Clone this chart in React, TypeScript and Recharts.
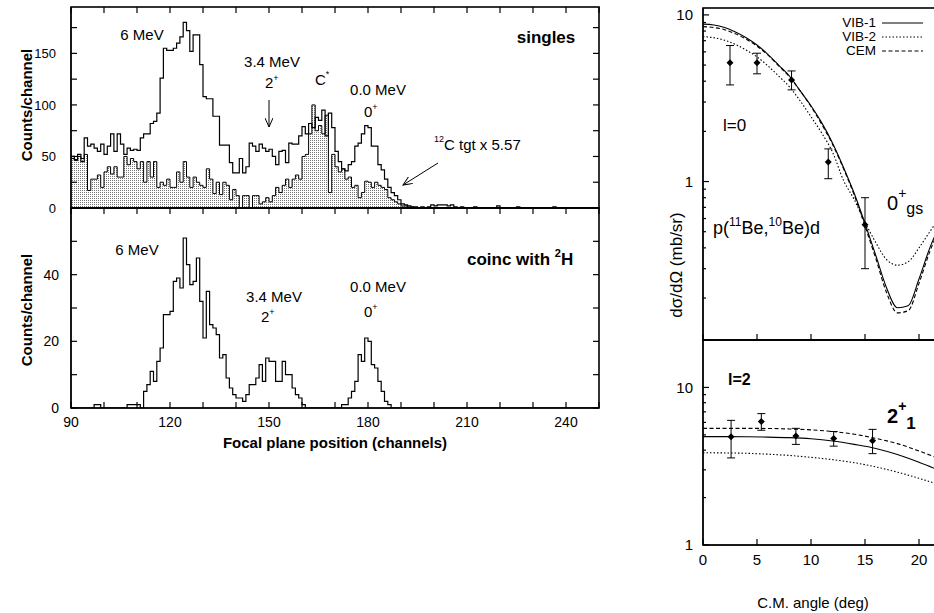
import React from 'react'
import { ComposedChart, Line, Area, XAxis, YAxis, Scatter, ErrorBar } from 'recharts'

const FONT = '"Liberation Sans", Arial, Helvetica, sans-serif'

// ---- focal plane spectra, one value per channel, first channel = 90 ----
const CH_START = 90
const singles = [
  50, 47, 52, 45, 68, 60, 62, 58, 55, 62, // 90
  52, 60, 72, 55, 72, 62, 52, 58, 56, 57, // 100
  56, 68, 72, 72, 82, 84, 92, 126, 155, 153, // 110
  153, 155, 160, 166, 180, 172, 152, 168, 168, 139, // 120
  108, 106, 106, 89, 89, 61, 61, 61, 44, 34, // 130
  34, 48, 34, 40, 63, 60, 55, 62, 58, 55, // 140
  57, 50, 42, 55, 56, 44, 63, 62, 62, 70, // 150
  79, 72, 82, 78, 88, 85, 95, 70, 92, 78, // 160
  55, 45, 38, 36, 42, 45, 60, 63, 72, 80, // 170
  78, 60, 60, 42, 37, 28, 20, 15, 12, 8, // 180
  4, 3, 2, 1, 1, 0, 1, 0, 1, 3, // 190
  2, 3, 3, 3, 2, 3, 1, 0, 1, 0, // 200
  0, 0, 1, 0, 0, 0, 0, 0, 0, 2, // 210
  0, 0, 0, 0, 0, 1, 0, 0, 0, 0, // 220
  0, 0, 0, 0, 0, 0, 1, 0, 0, 0, // 230
  0, 0, 0, 0, 0, 0, 0, 0, 0, 0, // 240
  0,
]
// 12C target run, scaled x 5.57
const carbonScaled = [
  48, 46, 50, 48, 52, 17, 28, 28, 32, 20,
  35, 40, 33, 40, 30, 30, 50, 42, 48, 45,
  38, 45, 25, 45, 30, 45, 20, 25, 22, 28,
  20, 20, 35, 25, 45, 30, 20, 30, 25, 22,
  20, 38, 28, 14, 25, 13, 25, 22, 8, 18,
  12, 0, 12, 12, 0, 12, 12, 4, 6, 10,
  6, 12, 20, 15, 22, 28, 20, 28, 32, 28,
  50, 52, 72, 100, 75, 80, 72, 90, 15, 52,
  40, 35, 38, 28, 30, 20, 22, 10, 15, 26,
  25, 20, 25, 22, 20, 18, 10, 8, 6, 4,
  2, 2, 1, 1, 0, 0, 0, 0, 0, 0,
  0, 0, 0, 0, 0, 0, 0, 0, 0, 0,
  0, 0, 0, 0, 0, 0, 0, 0, 0, 0,
  0, 0, 0, 0, 0, 0, 0, 0, 0, 0,
  0, 0, 0, 0, 0, 0, 0, 0, 0, 0,
  0, 0, 0, 0, 0, 0, 0, 0, 0, 0,
  0,
]
// coincidence with 2H
const coinc = [
  0, 0, 0, 0, 0, 0, 0, 1, 1, 0,
  0, 0, 0, 0, 0, 0, 0, 1, 1, 1,
  1, 0, 5, 7, 11, 8, 14, 18, 28, 28,
  29, 38, 39, 36, 51, 43, 37, 38, 45, 32,
  21, 35, 25, 24, 22, 15, 16, 9, 6, 4,
  3, 3, 2, 4, 7, 7, 9, 13, 8, 15,
  14, 14, 8, 8, 14, 10, 10, 6, 4, 3,
  1, 0, 0, 0, 0, 0, 0, 0, 0, 0,
  0, 0, 1, 1, 3, 5, 8, 16, 14, 21,
  20, 13, 12, 8, 5, 2, 1, 0, 0, 0,
  0, 0, 0, 0, 0, 0, 0, 0, 0, 0,
  0, 0, 0, 0, 0, 0, 0, 0, 0, 0,
  0, 0, 0, 0, 0, 0, 0, 0, 0, 0,
  0, 0, 0, 0, 0, 0, 0, 0, 0, 0,
  0, 0, 0, 0, 0, 0, 0, 0, 0, 0,
  0, 0, 0, 0, 0, 0, 0, 0, 0, 0,
  0,
]

const chTicks = [90, 100, 110, 120, 130, 140, 150, 160, 170, 180, 190, 200, 210, 220, 230, 240, 250]
const chLabels = [90, 120, 150, 180, 210, 240]
const singlesTicks = [0, 25, 50, 75, 100, 125, 150, 175]
const singlesLabels = [0, 50, 100, 150]
const coincTicks = [0, 10, 20, 30, 40, 50, 60]
const coincLabels = [0, 20, 40]

// ---- angular distributions ----
const angleTicks = [0, 5, 10, 15, 20, 25]
const angleLabels = [0, 5, 10, 15, 20]
const gsTicks = [0.2, 0.3, 0.4, 0.5, 0.6, 0.7, 0.8, 0.9, 1, 2, 3, 4, 5, 6, 7, 8, 9, 10]
const exTicks = [1, 2, 3, 4, 5, 6, 7, 8, 9, 10, 20]
const decades = [1, 10]

const gsAngles = [0, 1, 2, 3, 4, 5, 6, 7, 8, 9, 10, 11, 12, 13, 14, 15, 16, 17, 18, 19, 20, 21, 22]
const gsVib1 = [8.8, 8.7, 8.4, 7.9, 7.3, 6.6, 5.8, 5.0, 4.3, 3.5, 2.85, 2.25, 1.7, 1.22, 0.85, 0.56, 0.36, 0.23, 0.175, 0.18, 0.26, 0.4, 0.56]
const gsVib2 = [7.4, 7.3, 7.05, 6.65, 6.15, 5.6, 4.95, 4.3, 3.7, 3.05, 2.45, 1.95, 1.5, 1.02, 0.78, 0.57, 0.43, 0.34, 0.315, 0.33, 0.4, 0.5, 0.62]
const gsCem = [8.5, 8.4, 8.15, 7.7, 7.15, 6.5, 5.75, 4.95, 4.25, 3.5, 2.82, 2.2, 1.67, 1.2, 0.83, 0.54, 0.345, 0.215, 0.163, 0.168, 0.245, 0.38, 0.54]

const gsDataAngles = [2.5, 5.0, 8.2, 11.6, 15.0]
const gsDataValues = [5.17, 5.17, 4.07, 1.31, 0.55]
const gsDataLow = [3.8, 4.43, 3.55, 1.04, 0.3]
const gsDataHigh = [6.55, 5.89, 4.61, 1.57, 0.8]

const exAngles = [0, 2, 4, 6, 8, 10, 12, 14, 16, 18, 20, 22]
const exVib1 = [4.87, 4.87, 4.86, 4.84, 4.8, 4.72, 4.57, 4.35, 4.1, 3.75, 3.35, 2.95]
const exVib2 = [3.85, 3.84, 3.82, 3.77, 3.7, 3.6, 3.48, 3.33, 3.13, 2.9, 2.65, 2.4]
const exCem = [5.5, 5.5, 5.5, 5.49, 5.45, 5.38, 5.25, 5.05, 4.75, 4.4, 3.95, 3.5]

const exDataAngles = [2.6, 5.4, 8.6, 12.1, 15.7]
const exDataValues = [4.87, 6.07, 4.91, 4.75, 4.59]
const exDataLow = [3.57, 5.35, 4.35, 4.24, 3.8]
const exDataHigh = [6.18, 6.82, 5.5, 5.25, 5.42]

const histData = singles.map((v, i) => ({
  ch: CH_START + i,
  singles: v,
  carbon: carbonScaled[i],
  coinc: coinc[i],
}))

const gsCurves = gsAngles.map((a, i) => ({ angle: a, vib1: gsVib1[i], vib2: gsVib2[i], cem: gsCem[i] }))
const exCurves = exAngles.map((a, i) => ({ angle: a, vib1: exVib1[i], vib2: exVib2[i], cem: exCem[i] }))
const gsPoints = gsDataAngles.map((a, i) => ({
  angle: a,
  y: gsDataValues[i],
  err: [gsDataValues[i] - gsDataLow[i], gsDataHigh[i] - gsDataValues[i]],
}))
const exPoints = exDataAngles.map((a, i) => ({
  angle: a,
  y: exDataValues[i],
  err: [exDataValues[i] - exDataLow[i], exDataHigh[i] - exDataValues[i]],
}))

const curveStyles = [
  { key: 'vib1', name: 'VIB-1', dash: undefined as string | undefined },
  { key: 'vib2', name: 'VIB-2', dash: '1.5 2' },
  { key: 'cem', name: 'CEM', dash: '4 2.5' },
]

// ---- plot boxes (page pixels); the charts below are sized to put their plot areas here ----
type Box = {
  x0: number; x1: number; y0: number; y1: number
  xDomain: [number, number]; yDomain: [number, number]; yLog?: boolean
  xTicks: number[]; yTicks: number[]; yMajors?: number[]
  topTicks: boolean; bottomTicks: boolean; rightTicks: boolean
}
const boxes: Box[] = [
  { x0: 71, x1: 599, y0: 7, y1: 208, xDomain: [90, 250], yDomain: [0, 195], xTicks: chTicks, yTicks: singlesTicks, topTicks: true, bottomTicks: false, rightTicks: true },
  { x0: 71, x1: 599, y0: 208, y1: 408, xDomain: [90, 250], yDomain: [0, 60], xTicks: chTicks, yTicks: coincTicks, topTicks: true, bottomTicks: true, rightTicks: true },
  { x0: 703, x1: 973, y0: 8, y1: 340, xDomain: [0, 25], yDomain: [0.112, 11], yLog: true, xTicks: angleTicks, yTicks: gsTicks, yMajors: decades, topTicks: false, bottomTicks: true, rightTicks: false },
  { x0: 703, x1: 973, y0: 340, y1: 545, xDomain: [0, 25], yDomain: [1, 20], yLog: true, xTicks: angleTicks, yTicks: exTicks, yMajors: decades, topTicks: false, bottomTicks: true, rightTicks: false },
]

// labels only; the tick marks themselves are drawn inward by <Frames />
const makeLabel =
  (side: 'bottom' | 'left', labels: number[], fontSize: number, gap: number) =>
  (props: any) => {
    const { x, y, payload } = props
    const v = payload.value
    if (!labels.includes(v)) return <g />
    if (side === 'bottom')
      return (
        <text x={x} y={y + gap} textAnchor="middle" fontSize={fontSize} fill="#000">
          {v}
        </text>
      )
    return (
      <text x={x - gap} y={y + fontSize * 0.36} textAnchor="end" fontSize={fontSize} fill="#000">
        {v}
      </text>
    )
  }

const axisLine = { stroke: '#000', strokeWidth: 1 }

const Diamond = (p: any) => {
  const { cx, cy } = p
  const r = 3.5
  return <path d={`M${cx},${cy - r}L${cx + r},${cy}L${cx},${cy + r}L${cx - r},${cy}Z`} fill="#000" />
}

function FocalPlaneTop() {
  return (
    <ComposedChart width={610} height={215} data={histData} margin={{ top: 7, right: 11, bottom: 6, left: 0 }}>
      <defs>
        <pattern id="stipple" width={2} height={2} patternUnits="userSpaceOnUse">
          <rect width={2} height={2} fill="#fff" />
          <rect width={1} height={1} fill="#777" />
        </pattern>
      </defs>
      <XAxis dataKey="ch" type="number" domain={[90, 250]} ticks={chTicks} height={1} tick={false} tickLine={false} axisLine={axisLine} allowDataOverflow />
      <YAxis type="number" domain={[0, 195]} ticks={singlesTicks} width={71} tickSize={0} tickMargin={0} interval={0} tick={makeLabel('left', singlesLabels, 13, 15)} tickLine={false} axisLine={axisLine} allowDataOverflow />
      <Area type="stepAfter" dataKey="carbon" stroke="#000" strokeWidth={1} fill="url(#stipple)" fillOpacity={1} dot={false} activeDot={false} isAnimationActive={false} />
      <Line type="stepAfter" dataKey="singles" stroke="#000" strokeWidth={1.2} dot={false} activeDot={false} isAnimationActive={false} />
    </ComposedChart>
  )
}

function FocalPlaneBottom() {
  return (
    <ComposedChart width={610} height={240} data={histData} margin={{ top: 8, right: 11, bottom: 0, left: 0 }}>
      <XAxis dataKey="ch" type="number" domain={[90, 250]} ticks={chTicks} height={32} tickSize={0} tickMargin={0} interval={0} tick={makeLabel('bottom', chLabels, 14, 19)} tickLine={false} axisLine={axisLine} allowDataOverflow />
      <YAxis type="number" domain={[0, 60]} ticks={coincTicks} width={71} tickSize={0} tickMargin={0} interval={0} tick={makeLabel('left', coincLabels, 14, 12)} tickLine={false} axisLine={axisLine} allowDataOverflow />
      <Line type="stepAfter" dataKey="coinc" stroke="#000" strokeWidth={1.2} dot={false} activeDot={false} isAnimationActive={false} />
    </ComposedChart>
  )
}

function AngularGs() {
  return (
    <ComposedChart width={343} height={345} data={gsCurves} margin={{ top: 8, right: 10, bottom: 4, left: 0 }}>
      <XAxis dataKey="angle" type="number" domain={[0, 25]} ticks={angleTicks} height={1} tick={false} tickLine={false} axisLine={axisLine} allowDataOverflow />
      <YAxis type="number" scale="log" domain={[0.112, 11]} ticks={gsTicks} width={63} tickSize={0} tickMargin={0} interval={0} tick={makeLabel('left', decades, 15, 10)} tickLine={false} axisLine={axisLine} allowDataOverflow />
      {curveStyles.map((c) => (
        <Line key={c.key} type="monotone" dataKey={c.key} name={c.name} stroke="#000" strokeWidth={1.1} strokeDasharray={c.dash} dot={false} activeDot={false} isAnimationActive={false} />
      ))}
      <Scatter data={gsPoints} dataKey="y" shape={Diamond} isAnimationActive={false}>
        <ErrorBar dataKey="err" direction="y" width={4} stroke="#000" strokeWidth={1} />
      </Scatter>
    </ComposedChart>
  )
}

function AngularEx() {
  return (
    <ComposedChart width={343} height={250} data={exCurves} margin={{ top: 10, right: 10, bottom: 0, left: 0 }}>
      <XAxis dataKey="angle" type="number" domain={[0, 25]} ticks={angleTicks} height={35} tickSize={0} tickMargin={0} interval={0} tick={makeLabel('bottom', angleLabels, 15, 20)} tickLine={false} axisLine={axisLine} allowDataOverflow />
      <YAxis type="number" scale="log" domain={[1, 20]} ticks={exTicks} width={63} tickSize={0} tickMargin={0} interval={0} tick={makeLabel('left', decades, 15, 10)} tickLine={false} axisLine={axisLine} allowDataOverflow />
      {curveStyles.map((c) => (
        <Line key={c.key} type="monotone" dataKey={c.key} name={c.name} stroke="#000" strokeWidth={1.1} strokeDasharray={c.dash} dot={false} activeDot={false} isAnimationActive={false} />
      ))}
      <Scatter data={exPoints} dataKey="y" shape={Diamond} isAnimationActive={false}>
        <ErrorBar dataKey="err" direction="y" width={4} stroke="#000" strokeWidth={1} />
      </Scatter>
    </ComposedChart>
  )
}

// plot frames with gnuplot-style inward ticks (left always, others per box)
function Frames() {
  const items: React.ReactNode[] = []
  boxes.forEach((b, bi) => {
    const sx = (v: number) => b.x0 + ((v - b.xDomain[0]) / (b.xDomain[1] - b.xDomain[0])) * (b.x1 - b.x0)
    const t = (v: number) => (b.yLog ? Math.log10(v) : v)
    const sy = (v: number) => b.y1 - ((t(v) - t(b.yDomain[0])) / (t(b.yDomain[1]) - t(b.yDomain[0]))) * (b.y1 - b.y0)
    items.push(
      <rect key={`f${bi}`} x={b.x0} y={b.y0} width={b.x1 - b.x0} height={b.y1 - b.y0} fill="none" stroke="#000" strokeWidth={1.6} />,
    )
    b.xTicks.forEach((v) => {
      const x = sx(v)
      if (b.bottomTicks) items.push(<line key={`b${bi}-${v}`} x1={x} x2={x} y1={b.y1} y2={b.y1 - 6} stroke="#000" strokeWidth={1.2} />)
      if (b.topTicks) items.push(<line key={`t${bi}-${v}`} x1={x} x2={x} y1={b.y0} y2={b.y0 + 6} stroke="#000" strokeWidth={1.2} />)
    })
    b.yTicks.forEach((v) => {
      const y = sy(v)
      const len = b.yMajors && !b.yMajors.includes(v) ? 3 : 6
      items.push(<line key={`l${bi}-${v}`} x1={b.x0} x2={b.x0 + len} y1={y} y2={y} stroke="#000" strokeWidth={1.2} />)
      if (b.rightTicks) items.push(<line key={`r${bi}-${v}`} x1={b.x1} x2={b.x1 - len} y1={y} y2={y} stroke="#000" strokeWidth={1.2} />)
    })
  })
  return <g>{items}</g>
}

function Annotations() {
  const sup = { fontSize: 9 }
  return (
    <svg width={934} height={613} style={{ position: 'absolute', left: 0, top: 0, pointerEvents: 'none' }} fontFamily={FONT}>
      <defs>
        <marker id="head" markerWidth={10} markerHeight={8} refX={9} refY={4} orient="auto" markerUnits="userSpaceOnUse">
          <path d="M0,0 L9,4 L0,8" fill="none" stroke="#000" strokeWidth={1} />
        </marker>
      </defs>
      <Frames />
      <g fill="#000">
        {/* singles panel */}
        <text x={142} y={40} fontSize={15} textAnchor="middle">6 MeV</text>
        <text x={272} y={67} fontSize={15} textAnchor="middle">3.4 MeV</text>
        <text x={265} y={88} fontSize={15}>2<tspan dy={-7} {...sup}>+</tspan></text>
        <line x1={269} y1={100} x2={269} y2={127} stroke="#000" markerEnd="url(#head)" />
        <text x={315} y={85} fontSize={15}>C<tspan dy={-8} {...sup}>*</tspan></text>
        <text x={378} y={95} fontSize={15} textAnchor="middle">0.0 MeV</text>
        <text x={364} y={117} fontSize={15}>0<tspan dy={-7} {...sup}>+</tspan></text>
        <text x={434} y={150} fontSize={15}><tspan dy={-8} {...sup}>12</tspan><tspan dy={8}>C tgt x 5.57</tspan></text>
        <line x1={438} y1={163} x2={403} y2={185} stroke="#000" markerEnd="url(#head)" />
        <text x={546} y={43} fontSize={17} fontWeight="bold" textAnchor="middle">singles</text>
        <text transform="translate(32,105) rotate(-90)" fontSize={15} fontWeight="bold" textAnchor="middle">Counts/channel</text>
        {/* coincidence panel */}
        <text x={137} y={255} fontSize={15} textAnchor="middle">6 MeV</text>
        <text x={274} y={302} fontSize={15} textAnchor="middle">3.4 MeV</text>
        <text x={261} y={322} fontSize={15}>2<tspan dy={-7} {...sup}>+</tspan></text>
        <text x={378} y={292} fontSize={15} textAnchor="middle">0.0 MeV</text>
        <text x={364} y={317} fontSize={15}>0<tspan dy={-7} {...sup}>+</tspan></text>
        <text x={467} y={265} fontSize={17} fontWeight="bold">coinc with <tspan dy={-8} fontSize={11}>2</tspan><tspan dy={8}>H</tspan></text>
        <text transform="translate(32,310) rotate(-90)" fontSize={15} fontWeight="bold" textAnchor="middle">Counts/channel</text>
        <text x={335} y={448} fontSize={15} fontWeight="bold" textAnchor="middle">Focal plane position (channels)</text>
        {/* angular distributions */}
        {curveStyles.map((c, i) => (
          <g key={c.key}>
            <text x={876} y={27 + i * 14} fontSize={13.5} textAnchor="end">{c.name}</text>
            <line x1={882} x2={923} y1={23 + i * 14} y2={23 + i * 14} stroke="#000" strokeDasharray={c.dash} />
          </g>
        ))}
        <text x={723} y={131} fontSize={17}>l=0</text>
        <text x={887} y={210} fontSize={20}>0<tspan dy={-12} fontSize={14}>+</tspan><tspan dy={16} fontSize={16}>gs</tspan></text>
        <text x={713} y={234} fontSize={18}>p(<tspan dy={-8} fontSize={12}>11</tspan><tspan dy={8}>Be,</tspan><tspan dy={-8} fontSize={12}>10</tspan><tspan dy={8}>Be)d</tspan></text>
        <text transform="translate(682,265) rotate(-90)" fontSize={17} textAnchor="middle">dσ/dΩ (mb/sr)</text>
        <text x={728} y={385} fontSize={16} fontWeight="bold">l=2</text>
        <text x={887} y={423} fontSize={20} fontWeight="bold">2<tspan dy={-12} fontSize={14}>+</tspan><tspan dy={18} fontSize={17}>1</tspan></text>
        <text x={813} y={608} fontSize={15} textAnchor="middle">C.M. angle (deg)</text>
      </g>
    </svg>
  )
}

export default function App() {
  return (
    <div style={{ position: 'absolute', left: 0, top: 0, width: 934, height: 613, overflow: 'hidden', background: '#fff', fontFamily: FONT }}>
      <div style={{ position: 'absolute', left: 0, top: 0 }}>
        <FocalPlaneTop />
      </div>
      <div style={{ position: 'absolute', left: 0, top: 200 }}>
        <FocalPlaneBottom />
      </div>
      <div style={{ position: 'absolute', left: 640, top: 0 }}>
        <AngularGs />
      </div>
      <div style={{ position: 'absolute', left: 640, top: 330 }}>
        <AngularEx />
      </div>
      <Annotations />
    </div>
  )
}
